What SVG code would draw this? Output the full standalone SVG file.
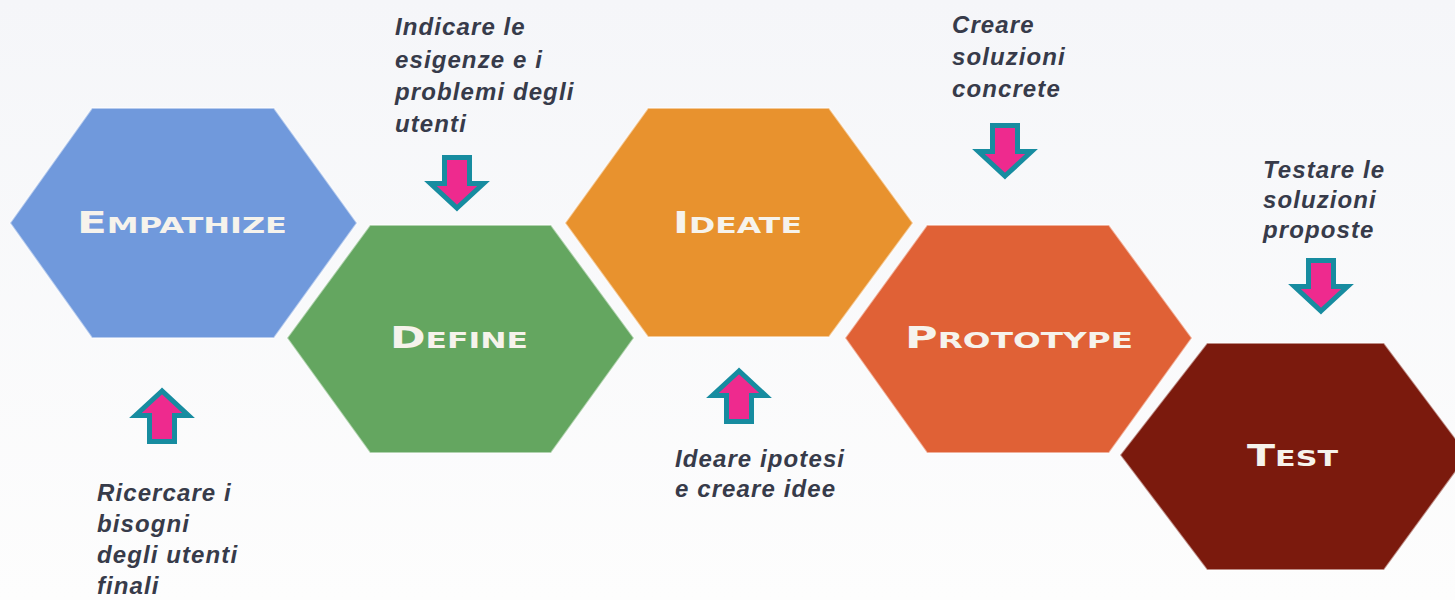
<svg xmlns="http://www.w3.org/2000/svg" width="1455" height="600" viewBox="0 0 1455 600">
  <style>
    .hex { stroke: #ffffff; stroke-width: 2; stroke-opacity: 0.5; }
    .lbl { font-family: "DejaVu Sans", "Liberation Sans", sans-serif; font-weight: bold; fill: #f6f3ec; font-size: 22px; }
    .big { font-size: 30px; }
    .note { font-family: "Liberation Sans", Arial, sans-serif; font-weight: bold; font-style: italic; font-size: 24px; fill: #373b4a; letter-spacing: 1.1px; }
    .arrow { fill: #ee2a8e; stroke: #178ca0; stroke-width: 5; stroke-linejoin: miter; }
  </style>
  <defs>
    <linearGradient id="bg" x1="0" y1="0" x2="0" y2="1">
      <stop offset="0" stop-color="#f5f6f9"/>
      <stop offset="1" stop-color="#fdfdfd"/>
    </linearGradient>
    <path id="arrowUp" class="arrow" d="M0,4 L-26.5,28.5 L-12.5,28.5 L-12.5,54.5 L12.5,54.5 L12.5,28.5 L26.5,28.5 Z"/>
  </defs>
  <rect x="0" y="0" width="1455" height="600" fill="url(#bg)"/>

  <g id="empathize">
    <polygon class="hex" fill="#7099dc" points="92,108 274,108 357,223 274,338 92,338 10,223"/>
    <text class="lbl" x="77" y="233" textLength="210" lengthAdjust="spacingAndGlyphs"><tspan class="big">E</tspan>MPATHIZE</text>
  </g>
  <g id="define">
    <polygon class="hex" fill="#64a660" points="370,225 551,225 634,338 551,453 370,453 287,338"/>
    <text class="lbl" x="390" y="348" textLength="138" lengthAdjust="spacingAndGlyphs"><tspan class="big">D</tspan>EFINE</text>
  </g>
  <g id="ideate">
    <polygon class="hex" fill="#e8922e" points="648,108 829,108 913,223 829,337 648,337 565,223"/>
    <text class="lbl" x="673" y="233" textLength="129" lengthAdjust="spacingAndGlyphs"><tspan class="big">I</tspan>DEATE</text>
  </g>
  <g id="prototype">
    <polygon class="hex" fill="#e06136" points="927,225 1109,225 1192,338 1109,453 927,453 845,338"/>
    <text class="lbl" x="905" y="348" textLength="228" lengthAdjust="spacingAndGlyphs"><tspan class="big">P</tspan>ROTOTYPE</text>
  </g>
  <g id="test">
    <polygon class="hex" fill="#7b1a0d" points="1207,343 1384,343 1468,455 1384,570 1207,570 1120,455"/>
    <text class="lbl" x="1247" y="466" textLength="91" lengthAdjust="spacingAndGlyphs"><tspan class="big">T</tspan>EST</text>
  </g>

  <g id="connectors">
    <use href="#arrowUp" transform="translate(162,387)"/>
    <use href="#arrowUp" transform="translate(457,212) rotate(180)"/>
    <use href="#arrowUp" transform="translate(739,367)"/>
    <use href="#arrowUp" transform="translate(1005,180) rotate(180)"/>
    <use href="#arrowUp" transform="translate(1321,315) rotate(180)"/>
  </g>

  <g id="notes">
    <text class="note" x="395" y="35">Indicare le</text>
    <text class="note" x="395" y="68">esigenze e i</text>
    <text class="note" x="395" y="100">problemi degli</text>
    <text class="note" x="395" y="132">utenti</text>

    <text class="note" x="97" y="501">Ricercare i</text>
    <text class="note" x="97" y="532">bisogni</text>
    <text class="note" x="97" y="563">degli utenti</text>
    <text class="note" x="97" y="594">finali</text>

    <text class="note" x="675" y="467">Ideare ipotesi</text>
    <text class="note" x="675" y="497">e creare idee</text>

    <text class="note" x="952" y="33">Creare</text>
    <text class="note" x="952" y="65">soluzioni</text>
    <text class="note" x="952" y="97">concrete</text>

    <text class="note" x="1263" y="178">Testare le</text>
    <text class="note" x="1263" y="208">soluzioni</text>
    <text class="note" x="1263" y="238">proposte</text>
  </g>
</svg>
